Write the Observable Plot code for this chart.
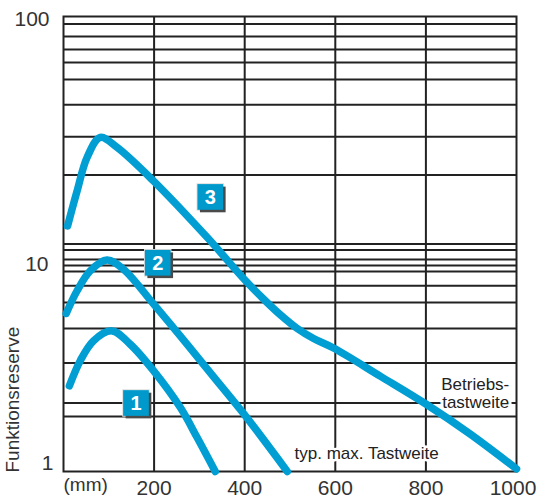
<!DOCTYPE html>
<html>
<head>
<meta charset="utf-8">
<script src="https://cdn.jsdelivr.net/npm/d3@7"></script>
<script src="https://cdn.jsdelivr.net/npm/@observablehq/plot@0.6"></script>
<style>
  html, body { margin: 0; padding: 0; background: #fff; }
  #chart { width: 539px; height: 502px; }
</style>
</head>
<body>
<div id="chart"></div>
<script>
// ---- data ----
const xTicks = [200, 400, 600, 800, 1000];
const gridX = [200, 400, 600, 800];
const gridY = [92.6, 81.7, 71.6, 62.8, 52.9, 40.9, 29.6, 20.1, 10, 9.4, 8.55, 8.05, 7.57, 6.55, 5.53, 4.25, 3.0, 2.0, 1.745];

const curve1X = [13, 37, 66, 107, 147, 199, 258, 295, 335];
const curve1Y = [2.38, 3.07, 3.75, 4.15, 3.63, 2.77, 1.91, 1.41, 1.0];

const curve2X = [6, 30, 59, 96, 132, 199, 273, 331, 405, 494];
const curve2Y = [4.95, 6.23, 7.62, 8.5, 7.76, 5.44, 3.62, 2.61, 1.72, 1.0];

const curve3X = [9, 30, 52, 81, 118, 199, 317, 402, 442, 479, 516, 552, 596, 700, 800, 898, 1000];
const curve3Y = [12.0, 17.1, 24.0, 29.4, 26.6, 18.9, 10.7, 6.89, 5.72, 4.88, 4.25, 3.84, 3.49, 2.62, 1.98, 1.46, 1.027];

const badgeLabels = ["1", "2", "3"];
const badgeX = [160, 208, 324];
const badgeY = [2.0, 8.27, 16.1];

const noteBetrieb = "Betriebs-\ntastweite";
const noteBetriebX = 984;
const noteBetriebY = 2.21;
const noteTyp = "typ. max. Tastweite";
const noteTypX = 510;
const noteTypY = 1.196;

const xUnit = "(mm)";
const yTitle = "Funktionsreserve";

// ---- build ----
const BLUE = "#009ed2";
const GRID = "#222";
const toPts = (xs, ys) => xs.map((x, i) => ({x, y: ys[i]}));
const badges = badgeLabels.map((t, i) => ({t, x: badgeX[i], y: badgeY[i]}));
const lineOpts = {x: "x", y: "y", curve: "catmull-rom", stroke: BLUE, strokeWidth: 7.5, strokeLinecap: "round", strokeLinejoin: "round"};
const fmt = d => String(d);

const chart = Plot.plot({
  width: 539,
  height: 502,
  marginLeft: 63,
  marginRight: 23,
  marginTop: 16,
  marginBottom: 31,
  style: {fontFamily: "'Liberation Sans', Arial, sans-serif", color: "#222", background: "#fff"},
  x: {domain: [0, 1000]},
  y: {type: "log", domain: [1, 100]},
  marks: [
    Plot.ruleY(gridY, {stroke: GRID, strokeWidth: 2}),
    Plot.ruleX(gridX, {stroke: GRID, strokeWidth: 2}),
    Plot.frame({stroke: GRID, strokeWidth: 2}),
    Plot.axisX(xTicks.slice(0, 4), {tickSize: 0, tickPadding: 9, fontSize: 21, label: null, fill: "#333", tickFormat: fmt}),
    Plot.axisX(xTicks.slice(4), {tickSize: 0, tickPadding: 9, fontSize: 21, label: null, fill: "#333", tickFormat: fmt, dx: -3.5}),
    Plot.axisY([100], {tickSize: 0, tickPadding: 14, fontSize: 21, label: null, dy: 3, fill: "#333", tickFormat: fmt}),
    Plot.axisY([10], {tickSize: 0, tickPadding: 15, fontSize: 21, label: null, dy: 20, fill: "#333", tickFormat: fmt}),
    Plot.axisY([1], {tickSize: 0, tickPadding: 10, fontSize: 21, label: null, dy: -8, fill: "#333", tickFormat: fmt}),
    Plot.text([xUnit], {frameAnchor: "bottom-left", dy: 19, dx: 0, textAnchor: "start", fontSize: 19, fill: "#333"}),
    Plot.text([yTitle], {frameAnchor: "bottom-left", rotate: -90, dx: -45, dy: 1, textAnchor: "start", fontSize: 19, fill: "#333"}),
    Plot.text([noteBetrieb], {x: () => noteBetriebX, y: () => noteBetriebY, textAnchor: "end", lineHeight: 1.08, fontSize: 17, fill: "#222", stroke: "white", strokeWidth: 6}),
    Plot.text([noteTyp], {x: () => noteTypX, y: () => noteTypY, textAnchor: "start", fontSize: 17, fill: "#222", stroke: "white", strokeWidth: 5}),
    Plot.line(toPts(curve1X, curve1Y), lineOpts),
    Plot.line(toPts(curve2X, curve2Y), lineOpts),
    Plot.line(toPts(curve3X, curve3Y), lineOpts),
    Plot.dot(badges, {x: "x", y: "y", symbol: "square", r: 15.5, fill: "#ddd"}),
    Plot.dot(badges, {x: "x", y: "y", symbol: "square", r: 14.5, fill: "#4a4a4a", dx: 2.5, dy: 2.5}),
    Plot.dot(badges, {x: "x", y: "y", symbol: "square", r: 14.5, fill: "#0099cc"}),
    Plot.text(badges, {x: "x", y: "y", text: "t", fill: "white", fontSize: 20, fontWeight: "bold", dy: 1})
  ]
});
document.getElementById("chart").appendChild(chart);
</script>
</body>
</html>
